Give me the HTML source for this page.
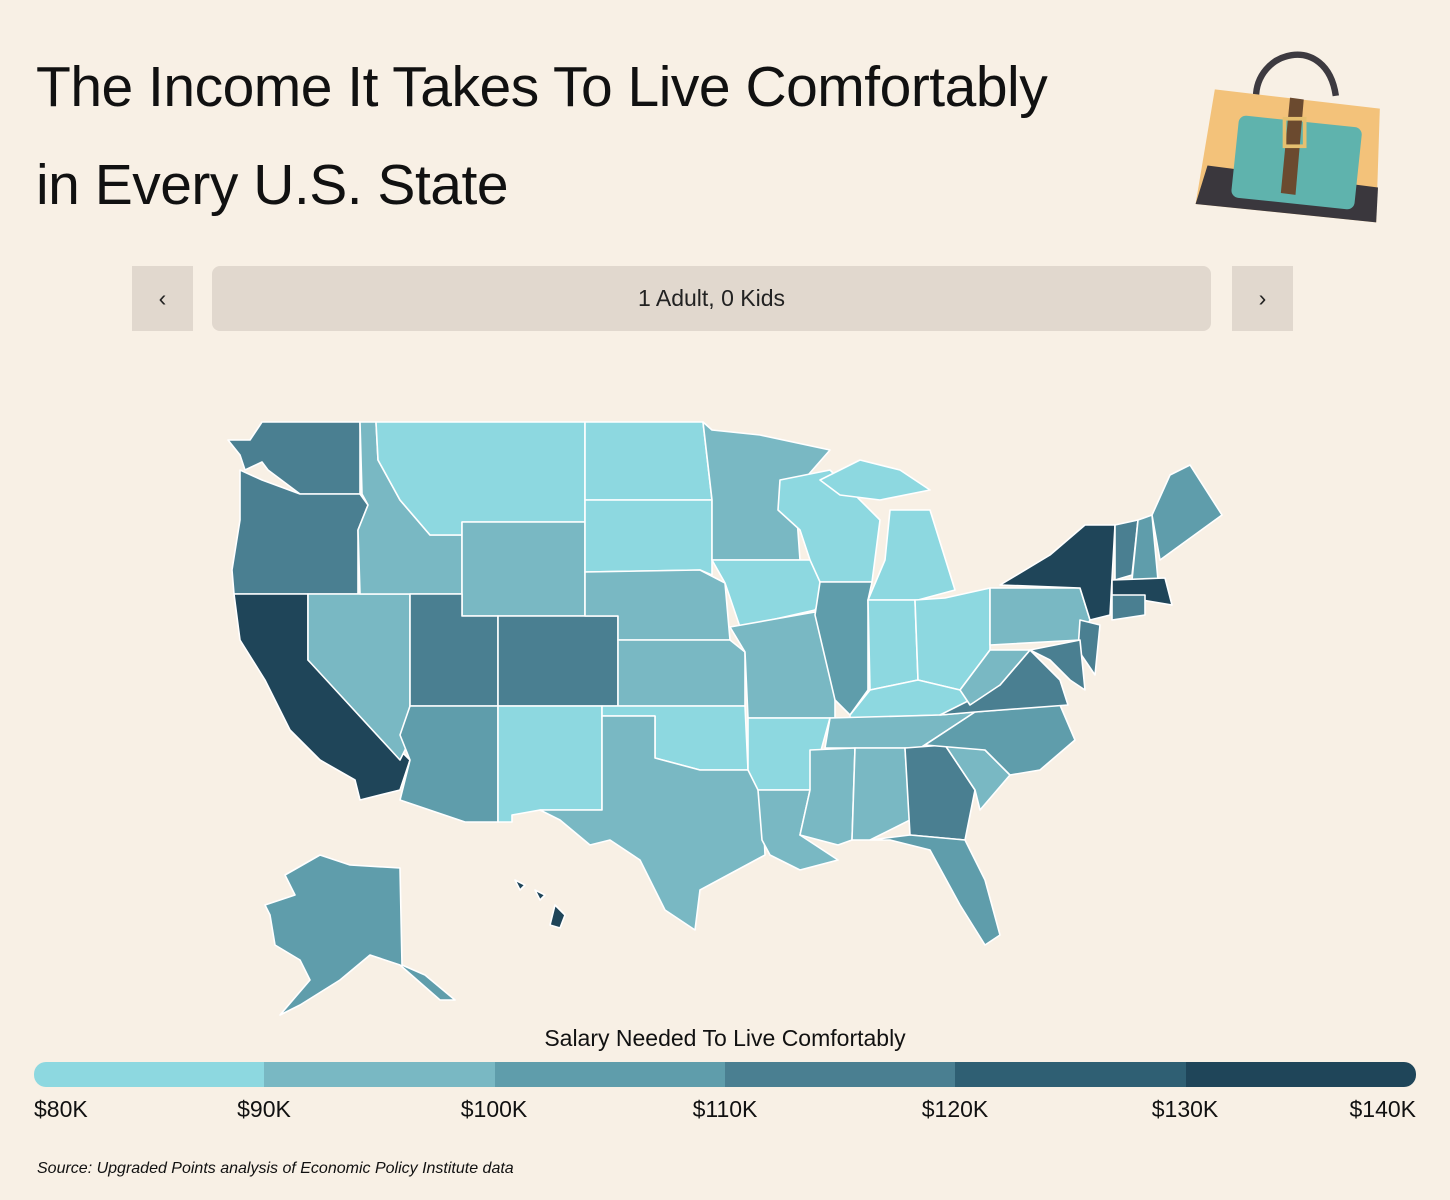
<!DOCTYPE html>
<html><head><meta charset="utf-8"><style>
body{margin:0;width:1450px;height:1200px;background:#f8f0e5;font-family:"Liberation Sans",sans-serif;position:relative;overflow:hidden}
h1{position:absolute;left:36px;top:38px;margin:0;font-weight:400;font-size:57px;line-height:98px;color:#111;letter-spacing:-0.5px}
.btn{position:absolute;top:266px;height:65px;background:#e1d8ce;display:flex;align-items:center;justify-content:center;font-size:23px;color:#222}
.lab{position:absolute;top:1096px;font-size:23px;color:#111}
</style></head><body>
<h1>The Income It Takes To Live Comfortably<br>in Every U.S. State</h1>
<svg style="position:absolute;left:1180px;top:25px" width="220" height="215" viewBox="1170 20 240 220">
<path d="M1253,95 C1250,40 1330,20 1340,90" fill="none" stroke="#3d3a40" stroke-width="7"/>
<polygon points="1208,83 1388,104 1384,228 1187,208" fill="#f3c27a"/>
<polygon points="1200,166 1386,190 1384,228 1187,208" fill="#3a373d"/>
<rect x="1230" y="118" width="135" height="90" rx="8" fill="#5fb3ad" transform="rotate(6 1300 160)"/>
<polygon points="1290,92 1305,94 1296,198 1280,196" fill="#6b4a2f"/>
<rect x="1284" y="115" width="22" height="30" fill="none" stroke="#e6c070" stroke-width="4"/>
</svg>
<div class="btn" style="left:132px;width:61px">‹</div>
<div class="btn" style="left:212px;width:999px;border-radius:8px">1 Adult, 0 Kids</div>
<div class="btn" style="left:1232px;width:61px">›</div>
<svg style="position:absolute;left:0;top:0" width="1450" height="1050">
<g stroke="#fff" stroke-width="1.6" stroke-linejoin="round">
<polygon fill="#4a7f91" points="228,440 250,440 262,422 360,422 360,494 300,494 268,470 262,462 245,470 240,455"/>
<polygon fill="#4a7f91" points="240,470 262,480 300,494 360,494 368,505 358,530 358,594 234,594 232,570 240,520"/>
<polygon fill="#1f4559" points="234,594 308,594 308,660 410,760 400,790 360,800 355,780 320,760 290,730 265,680 240,640"/>
<polygon fill="#79b8c3" points="308,594 410,594 410,740 400,760 308,660"/>
<polygon fill="#79b8c3" points="360,422 376,422 378,460 400,500 430,535 462,535 462,594 360,594 358,530 368,505 362,494"/>
<polygon fill="#8dd8e0" points="376,422 585,422 585,522 462,522 462,535 430,535 400,500 378,460"/>
<polygon fill="#79b8c3" points="462,522 585,522 585,616 462,616"/>
<polygon fill="#4a7f91" points="410,594 462,594 462,616 498,616 498,706 410,706"/>
<polygon fill="#4a7f91" points="498,616 618,616 618,706 498,706"/>
<polygon fill="#5f9dab" points="410,706 498,706 498,822 465,822 400,800 410,760 400,735"/>
<polygon fill="#8dd8e0" points="498,706 602,706 602,810 540,810 512,815 512,822 498,822"/>
<polygon fill="#8dd8e0" points="585,422 703,422 712,500 585,500"/>
<polygon fill="#8dd8e0" points="585,500 712,500 712,575 700,570 585,572"/>
<polygon fill="#79b8c3" points="585,572 700,570 725,583 730,640 618,640 618,616 585,616"/>
<polygon fill="#79b8c3" points="618,640 730,640 745,652 745,706 618,706"/>
<polygon fill="#8dd8e0" points="602,706 745,706 748,770 700,770 655,758 655,716 602,716"/>
<polygon fill="#79b8c3" points="602,716 655,716 655,758 700,770 748,770 762,790 765,855 700,890 695,930 665,910 640,860 610,840 590,845 560,820 540,810 602,810"/>
<polygon fill="#79b8c3" points="703,422 712,430 760,435 830,450 795,490 800,560 712,560 712,500"/>
<polygon fill="#8dd8e0" points="712,560 810,560 830,585 815,610 740,627 725,583"/>
<polygon fill="#79b8c3" points="730,627 815,612 835,690 835,718 748,718 745,652"/>
<polygon fill="#8dd8e0" points="748,718 830,718 810,790 758,790 748,770"/>
<polygon fill="#79b8c3" points="758,790 810,790 800,835 838,860 800,870 770,855 762,840"/>
<polygon fill="#8dd8e0" points="780,480 830,470 880,520 872,582 820,582 810,560 800,530 778,510"/>
<polygon fill="#5f9dab" points="820,582 872,582 868,600 868,690 850,715 835,700 815,615"/>
<polygon fill="#8dd8e0" points="868,600 885,560 890,510 930,510 955,590 918,600"/>
<polygon fill="#8dd8e0" points="820,480 860,460 900,470 930,490 880,500 840,495"/>
<polygon fill="#8dd8e0" points="868,600 915,600 918,680 870,690"/>
<polygon fill="#8dd8e0" points="915,600 945,598 990,588 990,650 960,690 918,680"/>
<polygon fill="#8dd8e0" points="850,715 870,690 918,680 960,690 975,700 940,715 850,718"/>
<polygon fill="#79b8c3" points="830,718 940,715 975,712 920,748 825,748"/>
<polygon fill="#79b8c3" points="810,750 855,748 852,840 838,845 800,835 810,790"/>
<polygon fill="#79b8c3" points="855,748 905,748 910,820 870,840 852,840"/>
<polygon fill="#4a7f91" points="905,748 945,745 975,790 965,840 910,835"/>
<polygon fill="#5f9dab" points="870,840 910,835 965,840 985,880 1000,935 985,945 960,905 930,850 890,840"/>
<polygon fill="#79b8c3" points="945,745 985,750 1010,775 980,810 975,790"/>
<polygon fill="#5f9dab" points="925,745 975,712 1060,705 1075,740 1040,770 1010,775 985,750"/>
<polygon fill="#4a7f91" points="940,715 1000,685 1030,650 1060,680 1068,705 975,712"/>
<polygon fill="#79b8c3" points="960,690 990,650 1030,650 1000,685 970,705"/>
<polygon fill="#79b8c3" points="990,588 1080,588 1090,620 1080,640 990,645"/>
<polygon fill="#1f4559" points="1000,585 1050,555 1085,525 1115,525 1110,615 1090,620 1080,588"/>
<polygon fill="#4a7f91" points="1080,620 1100,625 1095,675 1078,650"/>
<polygon fill="#4a7f91" points="1030,650 1080,640 1085,690 1070,680 1050,660"/>
<polygon fill="#4a7f91" points="1115,525 1138,520 1132,575 1115,580"/>
<polygon fill="#5f9dab" points="1138,520 1152,515 1158,580 1132,580"/>
<polygon fill="#5f9dab" points="1152,515 1170,475 1190,465 1222,515 1160,560"/>
<polygon fill="#1f4559" points="1112,580 1165,578 1172,605 1112,595"/>
<polygon fill="#4a7f91" points="1112,595 1145,595 1145,615 1112,620"/>
<polygon fill="#5f9dab" points="285,875 320,855 350,865 400,868 402,965 425,975 455,1000 440,1000 400,965 370,955 340,980 300,1005 280,1015 310,980 300,960 275,945 270,915 265,905 295,895"/>
<polygon fill="#1f4559" points="555,905 565,915 560,928 550,925"/>
<polygon fill="#1f4559" points="515,880 525,885 520,890"/><polygon fill="#1f4559" points="535,890 545,895 540,900"/>
</g></svg>
<div style="position:absolute;left:0;width:1450px;top:1025px;text-align:center;font-size:23px;color:#111">Salary Needed To Live Comfortably</div>
<div style="position:absolute;left:34px;top:1062px;width:1382px;height:25px;border-radius:12px;overflow:hidden;display:flex">
<div style="flex:1;background:#8dd8e0"></div><div style="flex:1;background:#79b8c3"></div><div style="flex:1;background:#5f9dab"></div><div style="flex:1;background:#4a7f91"></div><div style="flex:1;background:#2f5f73"></div><div style="flex:1;background:#1f4559"></div></div>
<div class="lab" style="left:34px">$80K</div>
<div class="lab" style="left:264px;transform:translateX(-50%)">$90K</div>
<div class="lab" style="left:494px;transform:translateX(-50%)">$100K</div>
<div class="lab" style="left:725px;transform:translateX(-50%)">$110K</div>
<div class="lab" style="left:955px;transform:translateX(-50%)">$120K</div>
<div class="lab" style="left:1185px;transform:translateX(-50%)">$130K</div>
<div class="lab" style="right:34px">$140K</div>
<div style="position:absolute;left:37px;top:1160px;font-size:16px;font-style:italic;color:#111">Source: Upgraded Points analysis of Economic Policy Institute data</div>
</body></html>
